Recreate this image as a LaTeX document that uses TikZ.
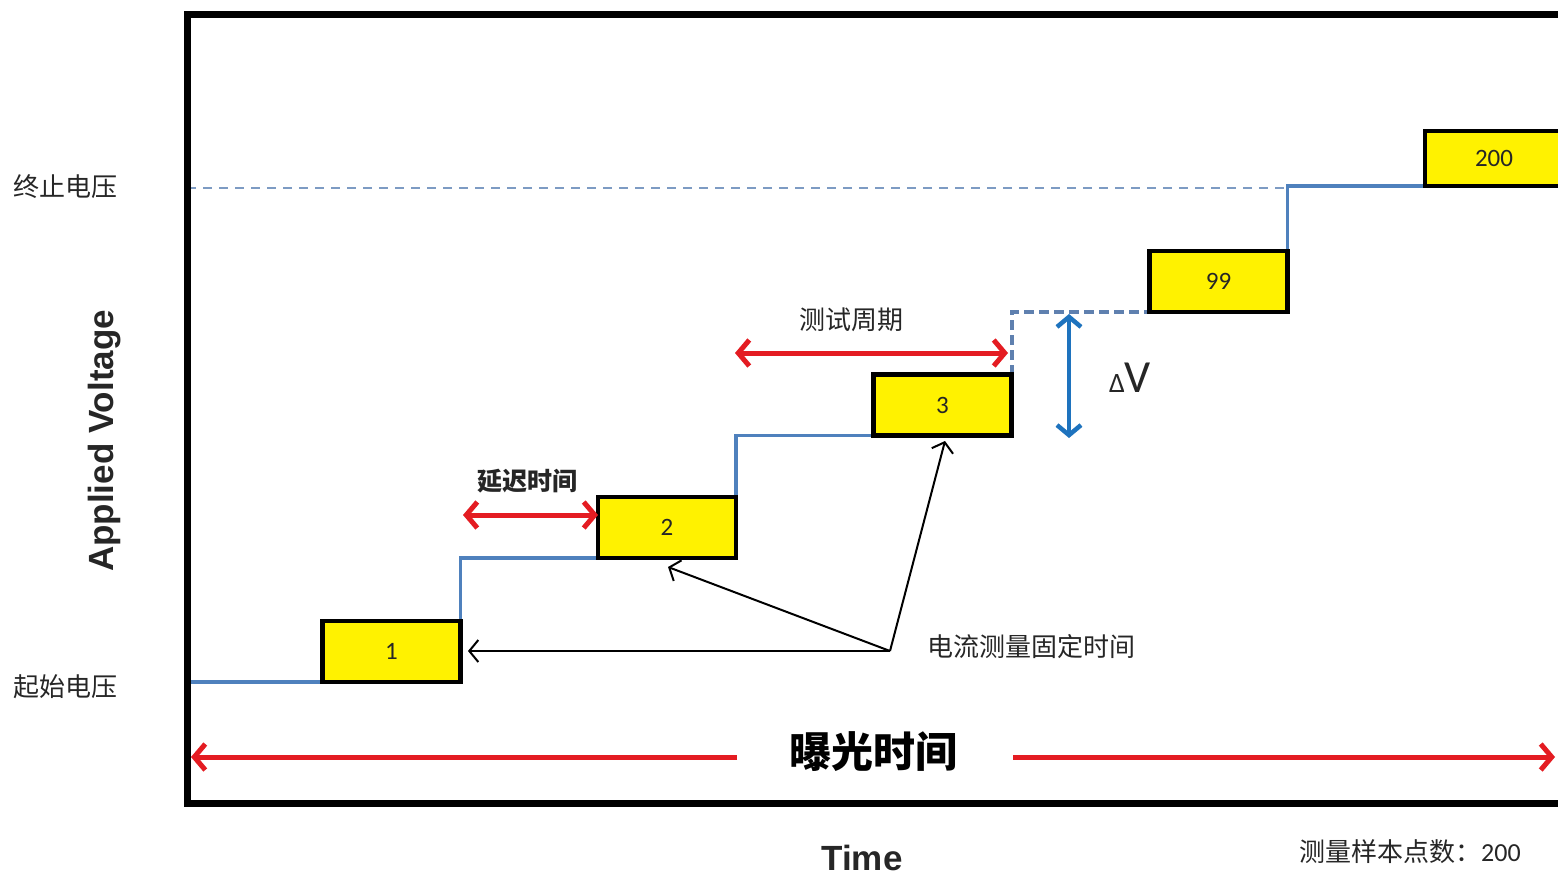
\documentclass[tikz,border=0pt]{standalone}
\usepackage{fontspec}
\setmainfont{Liberation Sans}
\newfontfamily\cjk{Noto Sans CJK SC}
\newfontfamily\calfont{Carlito}
\usetikzlibrary{arrows.meta}
\pgfdeclarelayer{bg}
\pgfsetlayers{bg,main}
\definecolor{stairblue}{RGB}{79,129,189}
\definecolor{topdashc}{RGB}{125,155,195}
\definecolor{stepdashc}{RGB}{95,128,175}
\definecolor{arrred}{RGB}{228,28,34}
\definecolor{dvblue}{RGB}{30,115,190}
\definecolor{txt}{RGB}{38,38,38}
\begin{document}
\begin{tikzpicture}[x=1pt,y=-1pt,
  vbox/.style={draw=black,line width=4.5pt,fill=yellow,minimum width=138pt,minimum height=61pt,inner sep=0pt,outer sep=0pt,font=\calfont\fontsize{25}{28}\selectfont,text=txt},
  stair/.style={draw=stairblue,line width=3.5pt},
  stairdash/.style={draw=stepdashc,line width=4pt,dash pattern=on 10pt off 5pt},
  topdash/.style={draw=topdashc,line width=2pt,dash pattern=on 9pt off 7pt},
  redarr/.style={draw=arrred,line width=5pt,{Straight Barb[length=11pt,width=26pt,line width=5pt]}-{Straight Barb[length=11pt,width=26pt,line width=5pt]}},
  redone/.style={draw=arrred,line width=5pt,-{Straight Barb[length=11pt,width=26pt,line width=5pt]}},
  dvarr/.style={draw=dvblue,line width=4.5pt,{Straight Barb[length=10pt,width=24pt,line width=4.5pt]}-{Straight Barb[length=10pt,width=24pt,line width=4.5pt]}},
  blkarr/.style={draw=black,line width=2pt,-{Straight Barb[length=9pt,width=22pt,line width=2pt]}},
  cjklab/.style={font=\cjk\fontsize{26}{30}\selectfont,text=txt,inner sep=0pt},
  cjkbold/.style={font=\cjk\bfseries\fontsize{25}{30}\selectfont,text=txt,inner sep=0pt},
]
\useasboundingbox (0,0) rectangle (1558,875);
\begin{pgfonlayer}{bg}
\fill[white] (0,0) rectangle (1558,875);
\end{pgfonlayer}
\clip (0,0) rectangle (1558,875);

% frame
\draw[line width=7pt,line join=miter] (1575,15) -| (187,803) -- (1575,803);

% boxes
\node[vbox] (b1) at (391.5,651.5) {1};
\node[vbox] (b2) at (667,527.5) {2};
\node[vbox] (b3) at (942.5,405) {3};
\node[vbox] (b99) at (1218.5,281.5) {99};
\node[vbox,minimum height=55pt] (b200) at (1494,158.5) {200};

% staircase
\coordinate (s0) at (187,682);
\coordinate (endv) at (187,188);
\begin{pgfonlayer}{bg}
\clip (0,0) rectangle (1558,875);
\draw[topdash] (endv) -- (b99.north east |- endv);
\draw[stair] (s0) -- (s0 -| b1.west);
\draw[stair] (b1.north east) |- (b2.south west);
\draw[stair] (b2.north east) |- (b3.south west);
\draw[stairdash] (b3.north east) |- (b99.south west);
\draw[stair] (b99.north east) |- (b200.south west);
\end{pgfonlayer}

% y labels
\node[cjklab] (lend) at (65,187) {终止电压};
\node[cjklab] (lstart) at (65,687) {起始电压};
\node[font=\bfseries\fontsize{35}{40}\selectfont,text=txt,rotate=90] (ylab) at (105,441) {Applied Voltage};
\node[font=\bfseries\fontsize{35}{40}\selectfont,text=txt] (xlab) at (862,858) {Time};
\node[cjklab] (nsamp) at (1410,852) {测量样本点数：\calfont 200};

% delay
\node[cjkbold] (ldelay) at (527,481) {延迟时间};
\coordinate (d0) at (463,515);
\draw[redarr] (d0) -- (d0 -| b2.west);

% period
\node[cjklab] (lperiod) at (851,320) {测试周期};
\coordinate (p0) at (735,353);
\coordinate (p1) at (1008,353);
\draw[redarr] (p0) -- (p1);

% delta V
\coordinate (v1) at (1069,314);
\coordinate (v2) at (1069,438);
\draw[dvarr] (v1) -- (v2);
\node[text=txt,inner sep=0pt] (dv) at (1130,378) {\calfont\fontsize{28}{30}\selectfont Δ\fontsize{46}{50}\selectfont V};

% current measurement
\node[cjklab,anchor=west] (lmeas) at (927,647) {电流测量固定时间};
\coordinate (hub) at (890,651);
\coordinate (a1) at (468,651);
\coordinate (a2) at (668,567);
\coordinate (a3) at (945,441);
\draw[blkarr] (hub) -- (a1);
\draw[blkarr] (hub) -- (a2);
\draw[blkarr] (hub) -- (a3);

% exposure
\node[font=\cjk\bfseries\fontsize{42}{48}\selectfont,text=black,inner sep=0pt] (lexpo) at (873,752) {曝光时间};
\coordinate (e0) at (191,757);
\coordinate (e1) at (737,757);
\coordinate (e2) at (1013,757);
\coordinate (e3) at (1555,757);
\draw[redone] (e1) -- (e0);
\draw[redone] (e2) -- (e3);
\end{tikzpicture}
\end{document}
